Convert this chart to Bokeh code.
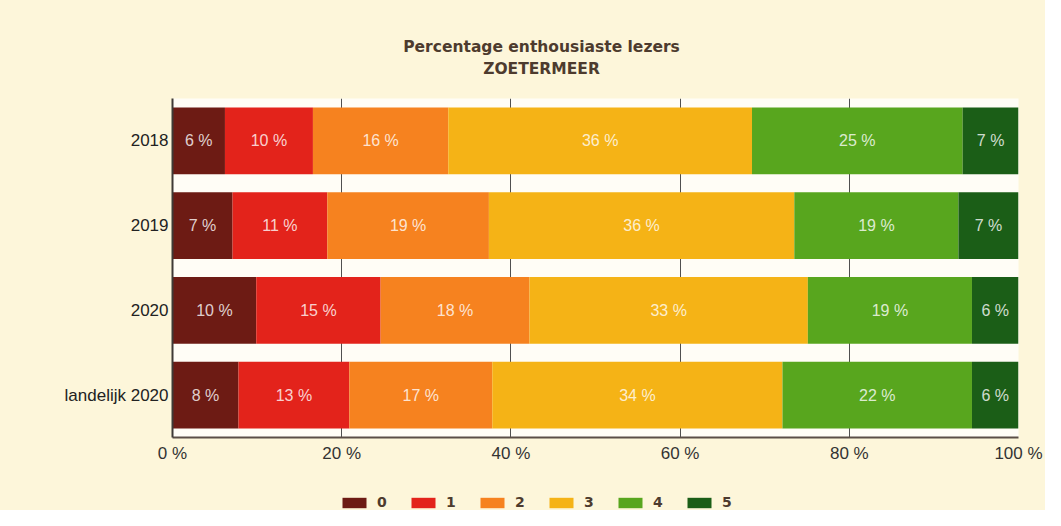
from bokeh.plotting import figure
from bokeh.layouts import column
from bokeh.models import (ColumnDataSource, FixedTicker, Legend, LegendItem,
                          Range1d, FactorRange)
from bokeh.core.properties import value
from bokeh.embed import file_html
from bokeh.resources import INLINE

# ---- data ----
categories = ["2018", "2019", "2020", "landelijk 2020"]
scores = ["0", "1", "2", "3", "4", "5"]
s0 = [6.2, 7.1, 9.9, 7.8]
s1 = [10.4, 11.2, 14.7, 13.1]
s2 = [16.0, 19.1, 17.6, 16.9]
s3 = [35.9, 36.1, 32.9, 34.3]
s4 = [24.9, 19.4, 19.4, 22.4]
s5 = [6.6, 7.1, 5.5, 5.5]
tick_values = [0, 20, 40, 60, 80, 100]
tick_labels = ["0 %", "20 %", "40 %", "60 %", "80 %", "100 %"]
title_lines = ["Percentage enthousiaste lezers", "ZOETERMEER"]

series = [s0, s1, s2, s3, s4, s5]
colors = ["#6d1b14", "#e3231b", "#f6821f", "#f5b316", "#58a61e", "#1b5e17"]
cols = ["s%d" % i for i in range(len(series))]

CREAM = "#fdf6da"
BROWN = "#4d3b2e"
W = 1045
BL, BR = 172, 27          # left / right borders shared by all rows
FL, FR = BL, W - BR       # frame edges in page pixels


def plain(fig):
    fig.axis.visible = False
    fig.grid.visible = False
    fig.outline_line_color = None
    fig.background_fill_alpha = 0
    fig.border_fill_alpha = 0
    fig.title.visible = False


# ---- title row ----
pt = figure(width=W, height=90, output_backend="svg", toolbar_location=None,
            x_range=Range1d(FL, FR), y_range=Range1d(0, 90),
            min_border_left=BL, min_border_right=BR, min_border_top=0, min_border_bottom=0)
plain(pt)
pt.text(x=[541, 541], y=[44, 22], text=title_lines, text_align="center",
        text_baseline="middle", text_font=value("DejaVu Sans"), text_font_style="bold",
        text_font_size="15.5px", text_color=BROWN)

# ---- main chart ----
data = {"cat": categories}
for c, s in zip(cols, series):
    data[c] = s
source = ColumnDataSource(data)

p = figure(width=W, height=380, output_backend="svg", toolbar_location=None,
           x_range=Range1d(0, 100), y_range=FactorRange(factors=list(reversed(categories))),
           min_border_left=BL, min_border_right=BR, min_border_top=8, min_border_bottom=33)
p.title.visible = False
p.border_fill_color = CREAM
p.background_fill_color = "#fffdf6"
p.outline_line_color = None

p.hbar_stack(cols, y="cat", height=0.79, color=colors, line_color=None, source=source)

lx, ly, lt = [], [], []
for i, cat in enumerate(categories):
    left = 0.0
    for s in series:
        v = s[i]
        lx.append(left + v / 2)
        ly.append(cat)
        lt.append("%d %%" % int(v + 0.5))
        left += v
lsrc = ColumnDataSource(dict(x=lx, y=ly, t=lt))
p.text(x="x", y="y", text="t", source=lsrc, text_align="center", text_baseline="middle",
       text_font=value("Liberation Sans"), text_font_size="16px",
       text_color="white", text_alpha=0.8)

p.xaxis.ticker = FixedTicker(ticks=tick_values)
p.xaxis.major_label_overrides = {v: t for v, t in zip(tick_values, tick_labels)}
p.xaxis.major_tick_out = 0
p.xaxis.major_tick_in = 0
p.xaxis.minor_tick_out = 0
p.xaxis.minor_tick_in = 0
p.xaxis.axis_line_width = 2
p.xaxis.axis_line_color = "#5b4e46"
p.xaxis.major_label_text_font = "Liberation Sans"
p.xaxis.major_label_text_font_size = "17px"
p.xaxis.major_label_text_color = "#333333"
p.xaxis.major_label_standoff = 6

p.yaxis.major_tick_out = 0
p.yaxis.major_tick_in = 0
p.yaxis.axis_line_width = 2
p.yaxis.axis_line_color = "#3f3a36"
p.yaxis.major_label_text_font = "Liberation Sans"
p.yaxis.major_label_text_font_size = "17px"
p.yaxis.major_label_text_color = "#222222"
p.yaxis.major_label_standoff = 4

p.ygrid.grid_line_color = None
p.xgrid.ticker = FixedTicker(ticks=[20, 40, 60, 80])
p.xgrid.grid_line_color = "#505050"
p.xgrid.grid_line_width = 1

# ---- legend row ----
pl = figure(width=W, height=40, output_backend="svg", toolbar_location=None,
            x_range=Range1d(FL, FR), y_range=Range1d(0, 40),
            min_border_left=BL, min_border_right=BR, min_border_top=0, min_border_bottom=0)
plain(pl)
offscreen = ColumnDataSource(dict(y=[-100], left=[-100], right=[-99]))
lrs = [pl.hbar(y="y", left="left", right="right", height=1, source=offscreen,
               fill_color=c, line_color=None) for c in colors]
legend = Legend(items=[LegendItem(label=s, renderers=[r]) for s, r in zip(scores, lrs)],
                orientation="horizontal", location=(339 - FL, 0),
                glyph_width=30, glyph_height=13, label_height=14, label_standoff=8,
                spacing=11, padding=0, margin=0, border_line_color=None,
                background_fill_alpha=0,
                label_text_font="DejaVu Sans", label_text_font_style="bold",
                label_text_font_size="14px", label_text_color=BROWN)
pl.add_layout(legend, "center")

layout = column(pt, p, pl, spacing=0, styles={"background-color": CREAM})
open("out.html", "w").write(file_html(layout, INLINE))
